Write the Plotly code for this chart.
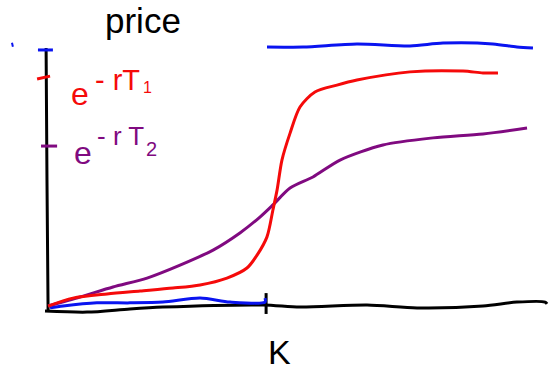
import plotly.graph_objects as go

# Hand-drawn sketch: option price vs strike K (K = 1 marks the strike, price 1 = top level)
axis_y_x = [0.005, 0.009, 0.014]
axis_y_y = [0.992, 0.492, 0.0]

axis_x_x = [0.0, 0.191, 0.386, 0.536, 0.991, 1.159, 1.464, 1.691, 1.991, 2.145, 2.273, 2.282]
axis_x_y = [-0.004, -0.008, 0.004, 0.011, 0.019, 0.011, 0.019, 0.008, 0.015, 0.030, 0.030, 0.023]

k_tick_x = [1.005, 1.005]
k_tick_y = [0.064, -0.015]

blue_low_x = [0.023, 0.082, 0.236, 0.386, 0.536, 0.705, 0.841, 1.0, 1.0]
blue_low_y = [0.008, 0.015, 0.027, 0.027, 0.030, 0.045, 0.030, 0.030, 0.045]

blue_high_x = [1.009, 1.173, 1.418, 1.659, 1.809, 2.036, 2.145, 2.218]
blue_high_y = [0.996, 0.996, 1.008, 1.0, 1.011, 1.008, 0.996, 0.992]

red_x = [0.014, 0.127, 0.282, 0.432, 0.582, 0.705, 0.827, 0.918, 0.964, 1.009, 1.036,
         1.055, 1.077, 1.114, 1.159, 1.227, 1.327, 1.418, 1.659, 1.9, 1.991, 2.059]
red_y = [0.015, 0.045, 0.061, 0.072, 0.083, 0.095, 0.121, 0.159, 0.208, 0.277, 0.379,
         0.455, 0.568, 0.670, 0.769, 0.826, 0.852, 0.871, 0.902, 0.905, 0.898, 0.898]

purple_x = [0.014, 0.159, 0.309, 0.464, 0.614, 0.764, 0.886, 0.977, 1.036, 1.114, 1.218,
            1.341, 1.536, 1.764, 1.991, 2.191]
purple_y = [0.015, 0.049, 0.087, 0.121, 0.170, 0.227, 0.292, 0.352, 0.398, 0.462, 0.504,
            0.568, 0.625, 0.652, 0.667, 0.689]

tick_blue_x, tick_blue_y = [-0.032, 0.036], [0.985, 0.985]
tick_red_x, tick_red_y = [-0.036, 0.023], [0.875, 0.886]
tick_purple_x, tick_purple_y = [-0.018, 0.055], [0.621, 0.621]
stray_x, stray_y = [-0.150, -0.146], [1.012, 0.997]

BLUE, RED, PURPLE, BLACK = "#0a14f0", "#f50a0a", "#800a80", "#000000"

fig = go.Figure()

def add_line(x, y, color, width=3, shape="spline"):
    fig.add_trace(go.Scatter(x=x, y=y, mode="lines",
                             line=dict(color=color, width=width, shape=shape, smoothing=0.8),
                             hoverinfo="skip", showlegend=False))

add_line(axis_y_x, axis_y_y, BLACK)
add_line(axis_x_x, axis_x_y, BLACK)
add_line(k_tick_x, k_tick_y, BLACK)
add_line(tick_blue_x, tick_blue_y, BLUE)
add_line(tick_red_x, tick_red_y, RED)
add_line(tick_purple_x, tick_purple_y, PURPLE)
add_line(stray_x, stray_y, BLUE, width=2)
add_line(blue_low_x, blue_low_y, BLUE)
add_line(blue_high_x, blue_high_y, BLUE)
add_line(purple_x, purple_y, PURPLE)
add_line(red_x, red_y, RED)

FONT = "Liberation Sans"

def label(x, y, text, size, color, xanchor="center"):
    fig.add_annotation(x=x, y=y, text=text, showarrow=False, xanchor=xanchor,
                       yanchor="middle", font=dict(family=FONT, size=size, color=color))

label(0.445, 1.098, "price", 35, BLACK)
label(1.064, -0.159, "K", 34, BLACK)
# e^{-rT1}
label(0.109, 0.818, "e", 32, RED, "left")
label(0.218, 0.871, "- rT", 29, RED, "left")
label(0.464, 0.841, "1", 16, RED)
# e^{-rT2}
label(0.123, 0.595, "e", 32, PURPLE, "left")
label(0.227, 0.659, "- r T", 26, PURPLE, "left")
label(0.486, 0.610, "2", 20, PURPLE)

fig.update_xaxes(range=[-45/220, 505/220], visible=False, fixedrange=True)
fig.update_yaxes(range=[-61/264, 310/264], visible=False, fixedrange=True)
fig.update_layout(width=550, height=371, margin=dict(l=0, r=0, t=0, b=0),
                  plot_bgcolor="white", paper_bgcolor="white")

fig.write_html("out.html", config={"displayModeBar": False},
               post_script="document.body.style.margin='0';")
